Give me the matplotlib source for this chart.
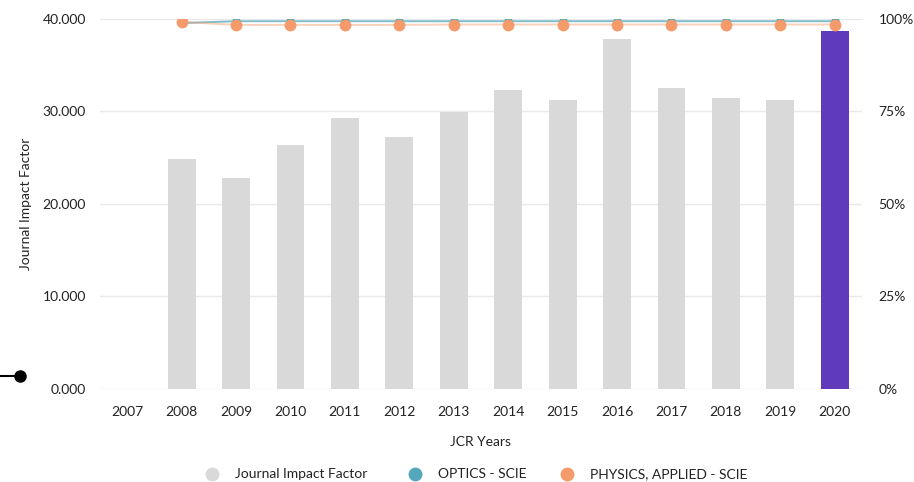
import matplotlib

matplotlib.use("Agg")
import matplotlib.pyplot as plt
import numpy as np
from matplotlib.lines import Line2D
from matplotlib.ticker import FuncFormatter

plt.rcParams["font.family"] = ["Lato", "DejaVu Sans"]

years = ["2007", "2008", "2009", "2010", "2011", "2012", "2013",
         "2014", "2015", "2016", "2017", "2018", "2019", "2020"]
jif = [0.0, 24.9, 22.8, 26.4, 29.3, 27.2, 29.9,
       32.3, 31.2, 37.8, 32.5, 31.5, 31.2, 38.7]
optics_pct = [np.nan, 98.9, 99.4, 99.4, 99.4, 99.4, 99.4,
              99.4, 99.4, 99.4, 99.4, 99.4, 99.4, 99.4]
physics_pct = [np.nan, 99.2, 98.4, 98.4, 98.4, 98.4, 98.5,
               98.5, 98.5, 98.5, 98.5, 98.5, 98.5, 98.5]
legend_labels = ["Journal Impact Factor", "OPTICS - SCIE", "PHYSICS, APPLIED - SCIE"]

GREY = "#d9d9d9"
PURPLE = "#5f3bbb"
TEAL = "#55a7bb"
ORANGE = "#f59a6b"
TEXT = "#222222"

fig = plt.figure(figsize=(9.14, 4.82), dpi=100)
ax = fig.add_axes([0.1094, 0.193, 0.8337, 0.7676])
ax2 = ax.twinx()

x = np.arange(len(years))
colors = [GREY] * (len(years) - 1) + [PURPLE]
ax.bar(x, jif, width=0.51, color=colors, zorder=2)

ax.set_xlim(-0.5, len(years) - 0.5)
ax.set_ylim(0, 40)
ax.set_yticks([0, 10, 20, 30, 40])
ax.yaxis.set_major_formatter(FuncFormatter(lambda v, _: f"{v:.3f}"))
ax.set_xticks(x)
ax.set_xticklabels(years)
ax.grid(axis="y", color="#e9e9e9", linewidth=1.0, zorder=0)
ax.set_axisbelow(True)
ax.tick_params(axis="both", length=0, labelsize=10, colors=TEXT, pad=10)
ax.tick_params(axis="x", pad=12)
for s in ax.spines.values():
    s.set_visible(False)
ax.set_ylabel("Journal Impact Factor", fontsize=10, color=TEXT, labelpad=8)
ax.set_xlabel("JCR Years", fontsize=10, color=TEXT, labelpad=13)

ax2.set_ylim(0, 100)
ax2.set_yticks([0, 25, 50, 75, 100])
ax2.yaxis.set_major_formatter(FuncFormatter(lambda v, _: f"{v:.0f}%"))
ax2.tick_params(axis="y", length=0, labelsize=10, colors=TEXT, pad=12)
for s in ax2.spines.values():
    s.set_visible(False)

# lines first (soft), then markers on top
ax2.plot(x, optics_pct, color=TEAL, linewidth=1.4, alpha=0.75, zorder=3)
ax2.plot(x, physics_pct, color=ORANGE, linewidth=1.4, alpha=0.45, zorder=3)
ax2.plot(x, optics_pct, linestyle="none", marker="o", markersize=6,
         color=TEAL, markeredgewidth=0, zorder=4)
ax2.plot(x, physics_pct, linestyle="none", marker="o", markersize=8.5,
         color=ORANGE, markeredgewidth=0, zorder=5)
ax2.set_zorder(ax.get_zorder() + 1)
ax2.patch.set_visible(False)

# small slider handle on the left edge
y_handle = 1 - 376 / 482
fig.add_artist(Line2D([0.0, 0.022], [y_handle, y_handle],
                      color="black", linewidth=1.5, transform=fig.transFigure))
fig.add_artist(Line2D([0.022], [y_handle], marker="o", markersize=8,
                      color="black", transform=fig.transFigure))

# legend drawn by hand to match spacing
legend_colors = [GREY, TEAL, ORANGE]
legend_dot_x = [212, 415, 567]
y_leg = 1 - 474 / 482
for px, c, lab in zip(legend_dot_x, legend_colors, legend_labels):
    fig.add_artist(Line2D([px / 914], [y_leg], marker="o", markersize=10,
                          markerfacecolor=c, markeredgewidth=0, linestyle="none",
                          transform=fig.transFigure))
    fig.text((px + 23) / 914, y_leg, lab, fontsize=10, color=TEXT,
             ha="left", va="center")

fig.savefig("out.png", dpi=100)
